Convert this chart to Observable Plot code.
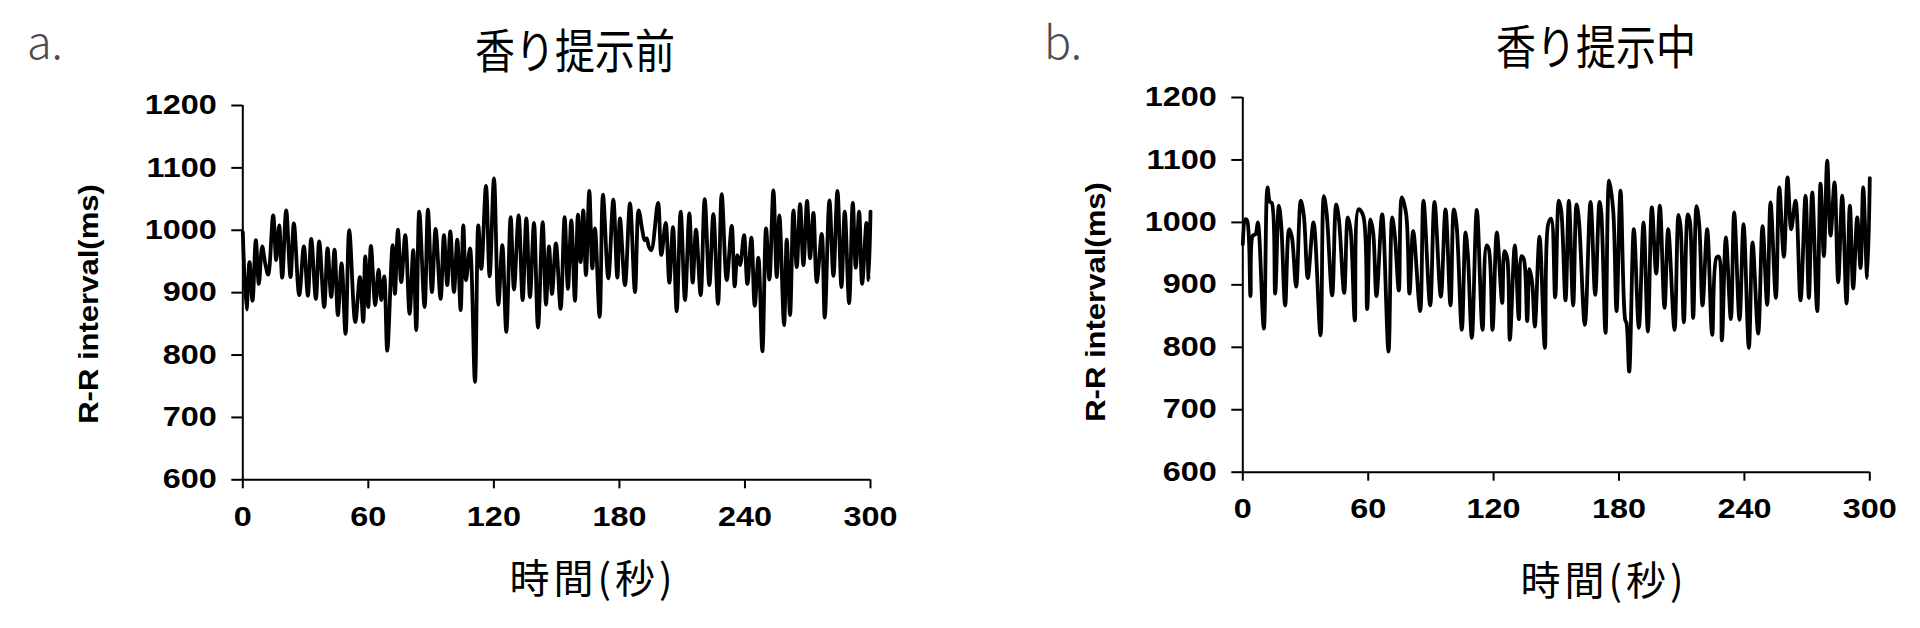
<!DOCTYPE html>
<html>
<head>
<meta charset="utf-8">
<script src="https://cdn.jsdelivr.net/npm/d3@7"></script>
<script src="https://cdn.jsdelivr.net/npm/@observablehq/plot@0.6"></script>
<style>
  html, body { margin: 0; padding: 0; background: #fff; }
  #page { position: relative; width: 1920px; height: 628px; overflow: hidden; background: #fff; }
  #page > div.panel { position: absolute; top: 0; }
  #overlay { position: absolute; left: 0; top: 0; pointer-events: none; }
</style>
</head>
<body>
<div id="page">
  <div class="panel" id="panelA" style="left:0px"></div>
  <div class="panel" id="panelB" style="left:960px"></div>
  <svg id="overlay" width="1920" height="628" xmlns="http://www.w3.org/2000/svg">
    <g font-family="'Noto Sans CJK JP', 'Noto Sans', sans-serif" fill="#000">
      <text x="27" y="59" font-size="45" font-weight="300" fill="#4d4d4d" id="letterA"></text>
      <text x="1044" y="59" font-size="45" font-weight="300" fill="#4d4d4d" id="letterB"></text>
      <text font-size="40" text-anchor="middle" transform="translate(575,68) scale(1,1.16)" id="titleA"></text>
      <text font-size="40" text-anchor="middle" transform="translate(1596,64) scale(1,1.16)" id="titleB"></text>
      <text x="593" y="593" font-size="40" text-anchor="middle" letter-spacing="4" id="xlabA"></text>
      <text x="1604" y="595" font-size="40" text-anchor="middle" letter-spacing="4" id="xlabB"></text>
    </g>
    <g font-family="'Liberation Sans', Arial, sans-serif" font-weight="bold" font-size="27" fill="#000">
      <text id="ylabA" text-anchor="middle" dy="0.36em" transform="translate(88,304) rotate(-90) scale(1.15,1)"></text>
      <text id="ylabB" text-anchor="middle" dy="0.36em" transform="translate(1095,302) rotate(-90) scale(1.15,1)"></text>
    </g>
  </svg>
</div>
<script>
// ---------- text ----------
const panelLetters = ["a.", "b."];
const titles = ["香り提示前", "香り提示中"];
const xLabel = "時間(秒)";
const yLabel = "R-R interval(ms)";

// ---------- ticks ----------
const xTicks = [0, 60, 120, 180, 240, 300];
const yTicks = [600, 700, 800, 900, 1000, 1100, 1200];

// ---------- panel a: before aroma (seconds, ms) ----------
const timeA = [0, 1.77, 3.2, 4.64, 6.23, 7.67, 9.26, 10.7, 12.13, 14.52, 15.96, 17.39, 18.83, 20.74, 22.81, 24.41, 26.96, 29.19, 31.1, 32.7,
  34.93, 36.52, 38.91, 40.51, 42.26, 43.85, 45.45, 47.2, 49.11, 50.87, 53.74, 55.97, 57.56, 58.52, 59.95, 61.23, 63.3, 64.89, 66.17, 67.6,
  69.04, 71.59, 72.7, 74.14, 75.73, 77.65, 79.72, 81.47, 82.91, 84.34, 86.89, 88.48, 90.4, 92.15, 94.54, 96.14, 97.73, 99.17, 100.92, 102.51,
  104.11, 105.38, 106.66, 108.57, 110.96, 112.55, 113.99, 116.22, 117.97, 120.05, 122.12, 124.03, 125.94, 128.02, 129.61, 131.84, 133.75, 135.51, 137.26, 139.17,
  141.09, 143.32, 144.91, 146.35, 147.78, 149.66, 151.9, 153.8, 155.4, 157.0, 158.75, 160.18, 161.46, 162.73, 164.0, 165.6, 167.04, 168.31, 170.54, 172.14,
  174.69, 177.08, 179.0, 180.27, 182.66, 185.05, 187.44, 189.19, 190.95, 192.06, 193.02, 194.14, 195.25, 198.44, 200.03, 202.11, 203.86, 205.61, 207.37, 209.28,
  211.35, 213.42, 215.02, 216.61, 218.84, 220.75, 222.99, 224.9, 227.13, 228.88, 231.28, 233.67, 235.1, 236.38, 237.65, 239.56, 241.16, 243.07, 244.66, 246.42,
  248.33, 250.08, 251.68, 253.59, 255.19, 256.46, 258.7, 259.97, 261.56, 263.16, 264.75, 266.34, 267.94, 269.69, 271.13, 272.72, 274.32, 276.7, 278.14, 280.37,
  282.28, 284.2, 286.11, 287.7, 289.78, 291.53, 292.96, 294.56, 296.0, 298.07, 299.1, 300];
const rrA = [997, 873, 949, 887, 984, 914, 974, 947, 929, 1024, 952, 1008, 924, 1032, 925, 1011, 896, 974, 895, 986,
  890, 982, 877, 971, 893, 969, 864, 947, 834, 1000, 853, 925, 853, 958, 877, 975, 880, 937, 888, 926,
  807, 976, 898, 1001, 917, 992, 866, 968, 840, 1030, 877, 1033, 901, 1002, 890, 992, 912, 998, 901, 985,
  872, 1008, 920, 971, 757, 1008, 938, 1071, 926, 1083, 881, 976, 837, 1021, 905, 1024, 888, 1019, 893, 1012,
  844, 1013, 881, 974, 898, 979, 874, 1021, 906, 1016, 887, 1025, 949, 1032, 928, 1063, 939, 1003, 861, 1057,
  923, 1049, 924, 1019, 912, 1043, 901, 1032, 1000, 984, 987, 973, 968, 1044, 960, 1012, 916, 1005, 870, 1030,
  888, 1027, 916, 1001, 896, 1050, 912, 1026, 882, 1058, 920, 1007, 910, 960, 944, 992, 914, 988, 879, 956,
  806, 1003, 921, 1064, 925, 1024, 848, 985, 864, 1032, 941, 1042, 944, 1047, 955, 1028, 917, 994, 860, 1048,
  927, 1063, 909, 1030, 883, 1044, 940, 1030, 914, 1012, 920, 1030];

// ---------- panel b: during aroma (seconds, ms) ----------
const timeB = [0, 1.29, 2.09, 3.68, 4.8, 6.07, 7.19, 10.06, 11.81, 12.93, 13.89, 15.48, 17.24, 18.35, 20.27, 22.18, 23.46, 25.53, 27.76, 29.2,
  31.11, 33.83, 37.18, 38.77, 40.05, 42.76, 44.67, 45.95, 48.5, 50.25, 51.53, 53.6, 55.36, 57.59, 59.51, 61.1, 62.38, 63.97, 66.68, 69.71,
  71.47, 72.74, 74.66, 76.09, 78.17, 79.76, 81.52, 84.87, 86.46, 89.65, 91.72, 94.75, 96.99, 99.38, 100.98, 102.25, 104.8, 106.56, 107.67, 109.59,
  111.98, 114.69, 116.61, 117.72, 119.48, 121.55, 124.1, 125.22, 126.5, 127.77, 130.16, 132.08, 133.35, 134.47, 136.07, 137.18, 138.46, 139.73, 141.97, 144.52,
  146.11, 147.55, 149.46, 151.22, 152.34, 154.41, 156.01, 158.08, 159.68, 160.79, 163.66, 166.38, 168.61, 170.68, 171.48, 173.55, 175.31, 177.22, 178.82, 180.73,
  182.96, 183.6, 184.88, 187.11, 189.5, 191.74, 193.81, 195.72, 197.8, 199.55, 201.78, 203.54, 206.57, 208.48, 209.44, 211.04, 212.95, 213.91, 215.5, 217.1,
  218.37, 219.97, 222.2, 224.59, 226.67, 227.78, 229.22, 231.13, 233.52, 235.12, 237.67, 239.59, 242.14, 243.89, 246.6, 248.68, 250.91, 252.51, 255.06, 256.65,
  258.89, 260.64, 262.39, 264.47, 266.86, 269.25, 270.85, 272.44, 274.84, 276.43, 278.03, 279.62, 281.22, 283.13, 284.88, 286.8, 288.87, 290.47, 292.06, 293.98,
  295.57, 296.85, 298.76, 300];
const rrB = [965, 1005, 1003, 882, 979, 981, 1000, 830, 1056, 1033, 1031, 886, 1027, 997, 867, 989, 977, 897, 1035, 1011,
  911, 1000, 819, 1042, 1017, 883, 1029, 1006, 887, 1008, 989, 843, 1021, 1011, 861, 1005, 984, 882, 1013, 793,
  1008, 979, 891, 1040, 1013, 886, 986, 858, 1035, 867, 1033, 881, 1021, 867, 1021, 997, 828, 984, 949, 815,
  1020, 828, 963, 957, 828, 984, 871, 954, 943, 812, 963, 845, 946, 941, 842, 925, 903, 833, 977, 799,
  997, 1006, 880, 1035, 1019, 875, 1035, 867, 1029, 1005, 836, 1033, 884, 1033, 1017, 823, 1067, 1019, 858, 1051,
  844, 839, 761, 989, 831, 1000, 825, 1024, 918, 1027, 863, 989, 828, 1012, 994, 840, 1013, 1002, 847, 1026,
  997, 867, 989, 820, 944, 945, 811, 976, 845, 1016, 844, 997, 799, 968, 822, 994, 868, 1032, 879, 1056,
  945, 1072, 989, 1035, 875, 1043, 879, 1048, 858, 1062, 946, 1099, 979, 1064, 904, 1043, 870, 1027, 894, 1008,
  927, 1056, 911, 1071];

const seriesA = timeA.map((t, i) => ({t, v: rrA[i]}));
const seriesB = timeB.map((t, i) => ({t, v: rrB[i]}));

const TICK_FONT = 27, TICK_STRETCH = 1.2;

function panel(data, m) {
  const svg = Plot.plot({
    width: 960, height: 628,
    marginLeft: m.left, marginRight: m.right, marginTop: m.top, marginBottom: m.bottom,
    style: {background: "white", overflow: "visible"},
    x: {domain: [0, 300], ticks: xTicks, tickFormat: d => String(d)},
    y: {domain: [600, 1200], ticks: yTicks, tickFormat: d => String(d)},
    marks: [
      Plot.axisX({ticks: xTicks, tickFormat: d => String(d), tickSize: 9, tickPadding: 18, fontSize: TICK_FONT, fontWeight: "bold",
        fontFamily: "Liberation Sans, Arial, sans-serif", label: null, stroke: "black", strokeWidth: 2}),
      Plot.axisY({ticks: yTicks, tickFormat: d => String(d), tickSize: 11, tickPadding: 15, fontSize: TICK_FONT, fontWeight: "bold",
        fontFamily: "Liberation Sans, Arial, sans-serif", label: null, stroke: "black", strokeWidth: 2}),
      Plot.ruleX([0], {stroke: "black", strokeWidth: 2}),
      Plot.ruleY([600], {stroke: "black", strokeWidth: 2}),
      Plot.line(data, {x: "t", y: "v", curve: "catmull-rom", stroke: "black", strokeWidth: 3.8, strokeLinejoin: "round"})
    ]
  });
  // widen tick labels horizontally like the original (stretched) figure
  for (const t of svg.querySelectorAll('g[aria-label$="tick label"] text')) {
    t.style.fontFamily = '"Liberation Sans", Arial, sans-serif';
    t.style.fontWeight = "bold";
    t.style.fontSize = TICK_FONT + "px";
    t.style.fill = "#000";
    const tr = t.getAttribute("transform");
    if (tr) t.setAttribute("transform", tr + ` scale(${TICK_STRETCH},1)`);
  }
  return svg;
}

document.getElementById("panelA").appendChild(panel(seriesA, {left: 242.3, right: 90, top: 105, bottom: 148.7}));
document.getElementById("panelB").appendChild(panel(seriesB, {left: 282.3, right: 50.7, top: 97, bottom: 156.3}));

document.getElementById("letterA").textContent = panelLetters[0];
document.getElementById("letterB").textContent = panelLetters[1];
document.getElementById("titleA").textContent = titles[0];
document.getElementById("titleB").textContent = titles[1];
document.getElementById("xlabA").textContent = xLabel;
document.getElementById("xlabB").textContent = xLabel;
document.getElementById("ylabA").textContent = yLabel;
document.getElementById("ylabB").textContent = yLabel;
</script>
</body>
</html>
